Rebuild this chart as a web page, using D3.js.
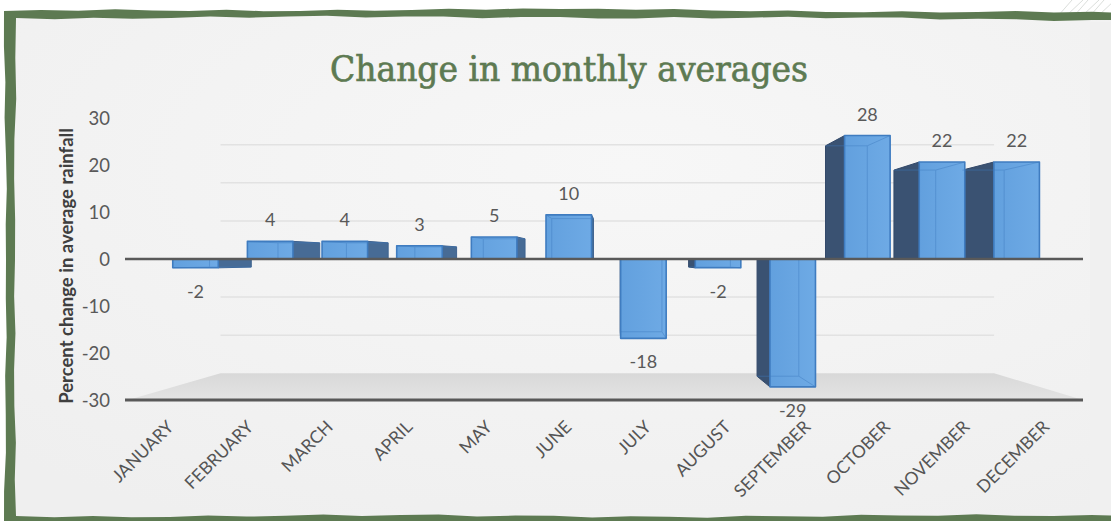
<!DOCTYPE html>
<html>
<head>
<meta charset="utf-8">
<script src="https://cdn.jsdelivr.net/npm/d3@7"></script>
<style>
  html, body { margin: 0; padding: 0; background: #ffffff; overflow: hidden; }
  svg { display: block; }
</style>
</head>
<body>
<svg id="chart" width="1111" height="521"></svg>
<script>
// Monthly change in average rainfall (percent)
const months = ["JANUARY", "FEBRUARY", "MARCH", "APRIL", "MAY", "JUNE",
                "JULY", "AUGUST", "SEPTEMBER", "OCTOBER", "NOVEMBER", "DECEMBER"];
const changes = [-2, 4, 4, 3, 5, 10, -18, -2, -29, 28, 22, 22];
const yTicks = [-30, -20, -10, 0, 10, 20, 30];
const gridValues = [-20, -10, 10, 20, 30];
const chartTitle = "Change in monthly averages";
const yTitle = "Percent change in average rainfall";

const W = 1111, H = 521;
const svg = d3.select("#chart");
const defs = svg.append("defs");

// ---- card background and rough green frame ----
const bg = defs.append("radialGradient").attr("id", "cardBg")
  .attr("cx", "0.55").attr("cy", "0.3").attr("r", "0.8");
bg.append("stop").attr("offset", "0").attr("stop-color", "#f7f7f7");
bg.append("stop").attr("offset", "1").attr("stop-color", "#efefef");

svg.append("rect").attr("x", 0).attr("y", 0).attr("width", W).attr("height", H).attr("fill", "#ffffff");

// faint sketch strokes above the frame at the top right
const hatch = svg.append("g").attr("stroke", "#9aa39a").attr("stroke-width", 1).attr("opacity", 0.35);
[1058, 1066, 1074, 1082, 1090, 1098].forEach((x0, i) => {
  hatch.append("line").attr("x1", x0).attr("y1", 16).attr("x2", x0 + 14 + (i % 2) * 3).attr("y2", 0);
});

// jagged edge helper for the hand-drawn frame
function jag(points, amp, seed) {
  const out = [];
  for (let i = 0; i < points.length - 1; i++) {
    const [ax, ay] = points[i], [bx, by] = points[i + 1];
    const len = Math.hypot(bx - ax, by - ay);
    const n = Math.max(2, Math.round(len / 38));
    const nx = -(by - ay) / len, ny = (bx - ax) / len;
    for (let k = 0; k < n; k++) {
      const t = k / n;
      const o = k === 0 ? 0 : amp * (Math.sin((i * 31 + k) * 12.9898 + seed) * 0.5 + Math.sin((k + 3) * 4.1 + seed * 2) * 0.5);
      out.push([ax + (bx - ax) * t + nx * o, ay + (by - ay) * t + ny * o]);
    }
  }
  out.push(points[points.length - 1]);
  return out;
}
const outer = jag([[1130, 13], [560, 9], [4, 11], [6, 260], [4, 530], [1130, 530]], 1.6, 1.3);
const inner = jag([[1130, 20], [560, 17], [16, 18], [15, 260], [16, 516], [1130, 516]], 1.8, 4.7);
const line = d3.line();
svg.append("path").attr("d", line(outer) + "Z").attr("fill", "#5d7a52");
svg.append("path").attr("d", line(inner) + "Z").attr("fill", "url(#cardBg)");
// the card runs off the right edge with no border there
svg.append("rect").attr("x", 1090).attr("y", 22).attr("width", 21).attr("height", 492).attr("fill", "#f0f0f0");

// ---- scales ----
const x = d3.scaleBand().domain(months).range([128, 1083]).padding(0);
const y = d3.scaleLinear().domain([-30, 30]).range([400, 118]);
const step = x.step();
const barW = step * 0.61;

// one-point perspective: depth scale s pulls points toward the vanishing point
const vpX = 615;
const vpY = y(0);
const sFront = 0.938, sBack = 0.86, sWall = 0.81;
const P = (X, Y, s) => [vpX + (X - vpX) * s, vpY + (Y - vpY) * s];
const poly = pts => "M" + pts.map(p => p[0].toFixed(2) + "," + p[1].toFixed(2)).join("L") + "Z";

const plot = svg.append("g");

// floor at the bottom of the value range
const floorGrad = defs.append("linearGradient").attr("id", "floorGrad")
  .attr("x1", 0).attr("y1", 0).attr("x2", 0).attr("y2", 1);
floorGrad.append("stop").attr("offset", "0").attr("stop-color", "#d8d8d8");
floorGrad.append("stop").attr("offset", "1").attr("stop-color", "#e4e4e4");
const [fx0, fx1] = x.range();
const yMin = y(-30);
plot.append("path")
  .attr("d", poly([P(fx0, yMin, sWall), P(fx1, yMin, sWall), P(fx1, yMin, 1), P(fx0, yMin, 1)]))
  .attr("fill", "url(#floorGrad)");

// gridlines on the back wall
plot.append("g").selectAll("line").data(gridValues).join("line")
  .attr("x1", d => P(fx0, y(d), sWall)[0]).attr("y1", d => P(fx0, y(d), sWall)[1])
  .attr("x2", d => P(fx1, y(d), sWall)[0]).attr("y2", d => P(fx1, y(d), sWall)[1])
  .attr("stroke", "#e2e2e2").attr("stroke-width", 1.5);

// ---- 3D columns ----
const bars = months.map((m, i) => {
  const xc = x(m) + step / 2;
  const x0 = xc - barW / 2, x1 = xc + barW / 2;
  const y0 = y(0), y1 = y(changes[i]);
  return { m, v: changes[i], xc, x0, x1, y0, y1, left: xc < vpX };
});

const edgeColor = "#3f7cc0";

// side faces facing the vanishing point (right faces catch more light)
plot.append("g").selectAll("path").data(bars).join("path")
  .attr("d", b => {
    const sx = b.left ? b.x1 : b.x0;
    return poly([P(sx, b.y1, sFront), P(sx, b.y1, sBack), P(sx, b.y0, sBack), P(sx, b.y0, sFront)]);
  })
  .attr("fill", b => b.left ? "#476b95" : "#3a5272")
  .attr("stroke", b => b.left ? "#3f6390" : "#33496a").attr("stroke-width", 1).attr("stroke-linejoin", "round");

// front faces
const frontGrad = defs.append("linearGradient").attr("id", "frontGrad")
  .attr("x1", 0).attr("y1", 0).attr("x2", 1).attr("y2", 0);
frontGrad.append("stop").attr("offset", "0").attr("stop-color", "#62a0de");
frontGrad.append("stop").attr("offset", "1").attr("stop-color", "#6eaae5");
plot.append("g").selectAll("path").data(bars).join("path")
  .attr("d", b => poly([P(b.x0, b.y1, sFront), P(b.x1, b.y1, sFront), P(b.x1, b.y0, sFront), P(b.x0, b.y0, sFront)]))
  .attr("fill", "url(#frontGrad)");

// back edges showing faintly through the glassy fronts
const back = plot.append("g").attr("fill", "none").attr("stroke", "#3f7cc0").attr("stroke-width", 1).attr("opacity", 0.45);
bars.forEach(b => {
  const farX = b.left ? b.x0 : b.x1;
  const a = P(farX, b.y1, sBack), c = P(farX, b.y0, sBack);
  back.append("line").attr("x1", a[0]).attr("y1", a[1]).attr("x2", c[0]).attr("y2", c[1]);
  const f = P(farX, b.y1, sFront);
  back.append("line").attr("x1", f[0]).attr("y1", f[1]).attr("x2", a[0]).attr("y2", a[1]);
  const nx = b.left ? b.x1 : b.x0;
  const n = P(nx, b.y1, sBack);
  back.append("line").attr("x1", a[0]).attr("y1", a[1]).attr("x2", n[0]).attr("y2", n[1]);
});

// front outlines
plot.append("g").selectAll("path").data(bars).join("path")
  .attr("d", b => poly([P(b.x0, b.y1, sFront), P(b.x1, b.y1, sFront), P(b.x1, b.y0, sFront), P(b.x0, b.y0, sFront)]))
  .attr("fill", "none")
  .attr("stroke", edgeColor).attr("stroke-width", 1.6).attr("stroke-linejoin", "round");

// value axis baselines
plot.append("line").attr("x1", 125).attr("x2", fx1).attr("y1", y(0)).attr("y2", y(0))
  .attr("stroke", "#595959").attr("stroke-width", 2.5);
plot.append("line").attr("x1", 125).attr("x2", fx1).attr("y1", yMin).attr("y2", yMin)
  .attr("stroke", "#595959").attr("stroke-width", 3);

// data labels
plot.append("g").selectAll("text").data(bars).join("text")
  .attr("x", b => P(b.xc, b.y1, sFront)[0])
  .attr("y", b => b.v >= 0 ? P(b.xc, b.y1, sFront)[1] - 15 : P(b.xc, b.y1, sFront)[1] + 30)
  .attr("text-anchor", "middle")
  .attr("font-family", "Lato, 'Open Sans', sans-serif").attr("font-size", 18)
  .attr("fill", "#595959")
  .text(b => String(b.v));

// y tick labels
plot.append("g").selectAll("text").data(yTicks).join("text")
  .attr("x", 110).attr("y", d => y(d) + 6.5)
  .attr("text-anchor", "end")
  .attr("font-family", "Lato, 'Open Sans', sans-serif").attr("font-size", 18.5)
  .attr("fill", "#595959")
  .text(d => String(d));

// category labels
plot.append("g").selectAll("text").data(months).join("text")
  .attr("transform", m => `translate(${x(m) + step / 2 + 7},428) rotate(-45)`)
  .attr("text-anchor", "end")
  .attr("font-family", "Lato, 'Open Sans', sans-serif").attr("font-size", 17.5)
  .attr("fill", "#555555")
  .text(m => m);

// axis title
svg.append("text")
  .attr("transform", "translate(73,266) rotate(-90)")
  .attr("text-anchor", "middle")
  .attr("font-family", "Lato, 'Open Sans', sans-serif").attr("font-size", 18.5).attr("font-weight", 700)
  .attr("fill", "#3f3f3f")
  .text(yTitle);

// chart title
svg.append("text")
  .attr("x", 569).attr("y", 81)
  .attr("text-anchor", "middle")
  .attr("font-family", "'DejaVu Serif', serif").attr("font-size", 36)
  .attr("textLength", 478).attr("lengthAdjust", "spacingAndGlyphs")
  .attr("fill", "#5d7a52").attr("stroke", "#5d7a52").attr("stroke-width", 0.7)
  .text(chartTitle);
</script>
</body>
</html>
